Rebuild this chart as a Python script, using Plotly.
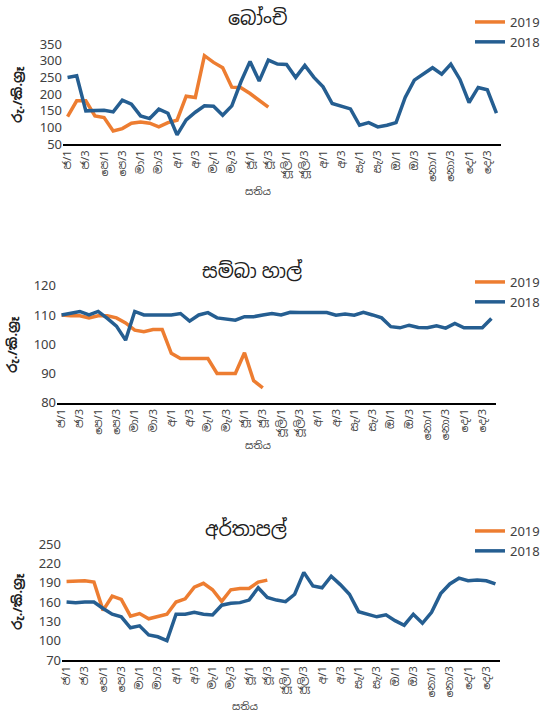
import plotly.graph_objects as go

W, H = 548, 713

# Week categories (index) and tick labels (every 2nd week)
weeks = list(range(48))
tick_idx = list(range(0, 48, 2))
tick_labels = ["ජ/1", "ජ/3", "පෙ/1", "පෙ/3", "මා/1", "මා/3", "අ/1", "අ/3",
               "මැ/1", "මැ/3", "ජූ/1", "ජූ/3", "ජූලි/1", "ජූලි/3", "අ/1", "අ/3",
               "සැ/1", "සැ/3", "ඔ/1", "ඔ/3", "නො/1", "නො/3", "දෙ/1", "දෙ/3"]

# Beans (බෝංචි)
beans_2019 = [133, 180, 180, 135, 130, 90, 97, 113, 117, 113, 102, 115, 122,
              194, 190, 315, 295, 279, 221, 219, 202, 182, 161]
beans_2018 = [250, 255, 150, 150, 152, 147, 182, 170, 135, 127, 155, 143, 78,
              123, 146, 165, 164, 137, 165, 237, 298, 239, 302, 290, 289, 250,
              286, 250, 222, 172, 164, 156, 107, 115, 102, 107, 115, 190, 242,
              262, 279, 260, 290, 244, 175, 220, 213, 143]

# Samba rice (සම්බා හාල්)
samba_2019 = [110, 109.7, 109.7, 109, 109.7, 109.7, 109, 107.3, 104.8, 104.3,
              105, 105, 96.9, 95.1, 95.1, 95.1, 95.1, 90, 90, 90, 97.1, 87.5, 85.1]
samba_2018 = [110, 110.5, 111.2, 110, 111.2, 108.8, 106.2, 101.4, 111.2, 110,
              110, 110, 110, 110.5, 107.9, 110, 110.8, 109, 108.5, 108.2, 109.4,
              109.4, 110, 110.5, 110, 110.9, 110.8, 110.8, 111, 110.8, 109.9,
              110.3, 109.9, 110.9, 110, 109, 106, 105.6, 106.5, 105.7, 105.6,
              106.3, 105.5, 107.1, 105.6, 105.6, 105.6, 108.8]

# Potato (අර්තාපල්)
potato_2019 = [192, 193, 193, 191, 147, 169, 164, 138, 142, 134, 137, 141,
               160, 165, 183, 189, 179, 161, 179, 181, 181, 191, 194]
potato_2018 = [160, 159, 160, 160, 150, 141, 137, 120, 123, 109, 106, 100,
               141, 141, 144, 141, 140, 155, 158, 159, 163, 182, 167, 163,
               160.5, 172, 206, 185, 182, 200, 187, 172, 145, 141, 137, 140,
               131, 124, 141, 127, 144, 173, 188, 197, 193, 194, 193, 188]

titles = ["බෝංචි", "සම්බා හාල්", "අර්තාපල්"]
y_title = "රු./කි.ග්‍රෑ"
x_title = "සතිය"
series_names = ["2019", "2018"]

ORANGE = "#ED7D31"
BLUE = "#255E91"
FONT = "Noto Sans, Noto Sans Sinhala, Lato, sans-serif"

def px(v):
    return 1 - v / H

# panel geometry in pixels: (x0, x1, y_bottom, y_top, ymin, ymax, dtick)
panels = [
    (63, 501, 144.3, 44.0, 50, 350, 50),
    (57, 496, 402.7, 285.7, 80, 120, 10),
    (62, 500, 660.0, 544.0, 70, 250, 30),
]
data_sets = [(beans_2019, beans_2018), (samba_2019, samba_2018), (potato_2019, potato_2018)]
title_pos = [(257, 18), (252, 271), (246, 529)]
ytitle_pos = [(17, 95), (12, 345), (17, 602)]
xtitle_pos = [(258, 191), (258, 445), (245, 706)]
legend_top = [7, 267, 516]

fig = go.Figure()
layout = dict(
    width=W, height=H, margin=dict(l=0, r=0, t=0, b=0, autoexpand=False),
    paper_bgcolor="white", plot_bgcolor="white",
    font=dict(family=FONT, color="#404040"),
    annotations=[],
)

for i, ((x0, x1, yb, yt, ymin, ymax, dt), (s19, s18)) in enumerate(zip(panels, data_sets)):
    n = i + 1
    xa = "x" if n == 1 else f"x{n}"
    ya = "y" if n == 1 else f"y{n}"
    lg = "legend" if n == 1 else f"legend{n}"
    for name, vals, col in [(series_names[0], s19, ORANGE), (series_names[1], s18, BLUE)]:
        fig.add_trace(go.Scatter(
            x=weeks[:len(vals)], y=vals, mode="lines", name=name,
            line=dict(color=col, width=3.5), xaxis=xa, yaxis=ya, legend=lg,
            hoverinfo="skip"))
    layout[f"xaxis{'' if n == 1 else n}"] = dict(
        domain=[x0 / W, x1 / W], anchor=ya, range=[-0.5, 47.5],
        tickmode="array", tickvals=tick_idx, ticktext=tick_labels,
        tickangle=-90, tickfont=dict(size=11, color="#404040"),
        showline=True, linecolor="black", linewidth=1.5,
        showgrid=False, zeroline=False, ticks="", fixedrange=True)
    layout[f"yaxis{'' if n == 1 else n}"] = dict(
        domain=[px(yb), px(yt)], anchor=xa, range=[ymin, ymax],
        dtick=dt, tick0=ymin, showline=False, showgrid=False, zeroline=False,
        tickfont=dict(size=13, color="#404040"), ticks="", fixedrange=True)
    layout[lg] = dict(
        x=470 / W, y=px(legend_top[i]), xanchor="left", yanchor="top",
        font=dict(size=13, color="#404040"), bgcolor="rgba(0,0,0,0)",
        tracegroupgap=0, itemwidth=30)
    tx, ty = title_pos[i]
    layout["annotations"].append(dict(
        text=titles[i], x=tx / W, y=px(ty), xref="paper", yref="paper",
        xanchor="center", yanchor="middle",
        showarrow=False, font=dict(size=19, color="#202020")))
    ax_, ay_ = ytitle_pos[i]
    layout["annotations"].append(dict(
        text="<b>" + y_title + "</b>", x=ax_ / W, y=px(ay_), xref="paper", yref="paper",
        xanchor="center", yanchor="middle",
        showarrow=False, textangle=-90, font=dict(size=13, color="#202020")))
    xx, xy = xtitle_pos[i]
    layout["annotations"].append(dict(
        text=x_title, x=xx / W, y=px(xy), xref="paper", yref="paper",
        xanchor="center", yanchor="middle",
        showarrow=False, font=dict(size=10, color="#404040")))

fig.update_layout(**layout)
fig.write_html("out.html", config={"displayModeBar": False},
               post_script="document.body.style.margin='0';")
